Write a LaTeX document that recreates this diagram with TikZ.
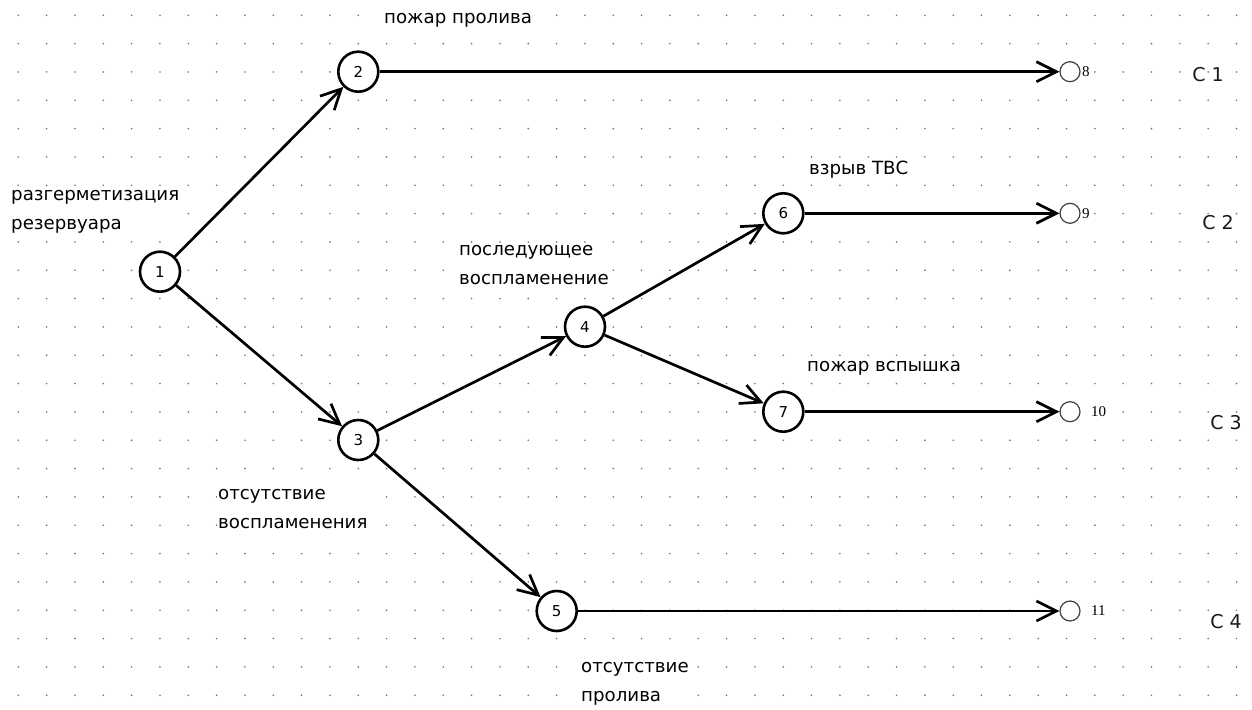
\documentclass[tikz,border=0pt]{standalone}
\usepackage{fontspec}
\setmainfont{DejaVu Sans}
\newfontfamily\numfont{Liberation Serif}
\usetikzlibrary{arrows.meta}
\begin{document}
\begin{tikzpicture}[x=1pt,y=-1pt,
  event/.style={circle,draw,line width=2.6pt,fill=white,minimum size=40pt,inner sep=0pt,font=\fontsize{15}{15}\selectfont},
  outcome/.style={circle,draw=black!75,line width=1.2pt,fill=white,minimum size=20pt,inner sep=0pt},
  branch/.style={line width=2.7pt,-{Straight Barb[length=20pt,width=20pt,line width=2.7pt]}},
  lbl/.style={anchor=west,fill=white,inner sep=1pt,align=left,font=\fontsize{18.2}{29}\selectfont},
  onum/.style={anchor=west,inner sep=0pt,font=\numfont\fontsize{15}{15}\selectfont},
  cls/.style={font=\fontsize{19}{19}\selectfont,text=black!90}]
\useasboundingbox (0,0) rectangle (1252,709);
\fill[white] (0,0) rectangle (1252,709);
% dotted background grid
\foreach \i in {0,...,43}
  \foreach \j in {0,...,24}
    \fill[black!55] ({18.3+28.33*\i},{15.3+28.33*\j}) circle (0.9);

% event nodes
\node[event] (n1) at (160,271.7) {1};
\node[event] (n2) at (358.3,71.7) {2};
\node[event] (n3) at (358.3,440) {3};
\node[event] (n4) at (585,326.7) {4};
\node[event] (n5) at (556.7,611) {5};
\node[event] (n6) at (783.3,213.3) {6};
\node[event] (n7) at (783.3,411.7) {7};

% outcome nodes
\node[outcome] (n8) at (1070,71.7) {};
\node[outcome] (n9) at (1070,213.3) {};
\node[outcome] (n10) at (1070,411.7) {};
\node[outcome] (n11) at (1070,611) {};
\node[onum] (t8) at (1082,71.7) {8};
\node[onum] (t9) at (1082,213.3) {9};
\node[onum] (t10) at (1091,411.7) {10};
\node[onum] (t11) at (1091,611) {11};

% outcome classes
\node[cls] (c1) at (1208,75) {C 1};
\node[cls] (c2) at (1218,223) {C 2};
\node[cls] (c3) at (1226,423) {C 3};
\node[cls] (c4) at (1226,622) {C 4};

% branches
\draw[branch] (n1) -- (n2);
\draw[branch] (n1) -- (n3);
\draw[branch] (n3) -- (n4);
\draw[branch] (n3) -- (n5);
\draw[branch] (n4) -- (n6);
\draw[branch] (n4) -- (n7);
\draw[branch] (n2) -- (n8);
\draw[branch] (n6) -- (n9);
\draw[branch] (n7) -- (n10);
\draw[branch] (n5) -- (n11);

% event labels
\node[lbl] (l1) at (10,212) {разгерметизация\\резервуара};
\node[lbl] (l2) at (383,20) {пожар пролива};
\node[lbl] (l3) at (458,265) {последующее\\воспламенение};
\node[lbl] (l4) at (217,509) {отсутствие\\воспламенения};
\node[lbl] (l5) at (580,684) {отсутствие\\пролива};
\node[lbl] (l6) at (808,170) {взрыв ТВС};
\node[lbl] (l7) at (806,368) {пожар вспышка};
\end{tikzpicture}
\end{document}
